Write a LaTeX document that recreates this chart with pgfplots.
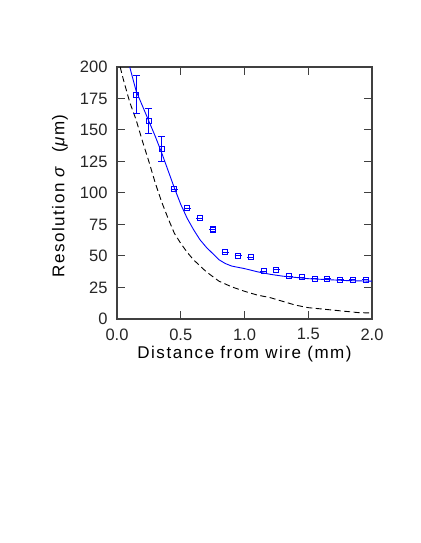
\documentclass[border=0pt]{standalone}
\usepackage{fontspec}
\setmainfont{Liberation Sans}
\usepackage{pgfplots}
\pgfplotsset{compat=1.18}

% measured points
\pgfplotstableread{
x     y    err
0.15  178  15
0.25  157  10
0.35  135  10
0.45  103  0
0.55  88   0
0.65  80   0
0.75  71   0
0.85  53   0
0.95  50   0
1.05  49   0
1.15  38   0
1.25  39   0
1.35  34   0
1.45  33   0
1.55  32   0
1.65  32   0
1.75  31   0
1.85  31   0
1.95  31   0
}\meas

\newcommand{\lblfont}{\fontsize{17}{19}\selectfont\addfontfeature{LetterSpace=9}}

\begin{document}
\begin{tikzpicture}
\path (-117pt,-224pt) rectangle (303pt,319pt);
\begin{axis}[
    at={(0,0)}, anchor=south west,
    scale only axis,
    width=255pt, height=252pt,
    xmin=0, xmax=2, ymin=0, ymax=200,
    xtick={0,0.5,1,1.5,2},
    ytick={0,25,...,200},
    xticklabels={0.0,0.5,1.0,1.5,2.0},
    tick align=inside,
    major tick length=8pt,
    minor tick num=0,
    axis line style={black!75, line width=1.1pt},
    every tick/.style={black!75, line width=1pt},
    /pgf/number format/assume math mode=true,
    tick label style={font=\fontsize{16.5}{18}\selectfont, black!85},
    yticklabel style={xshift=-6pt},
    xticklabel style={yshift=-6pt},
    xlabel={Distance from wire (mm)},
    ylabel={Resolution \textit{σ}\hspace{6pt} (\textit{μ}m)},
    xlabel style={font=\lblfont, at={(axis description cs:0.5,-0.155)}, anchor=base},
    ylabel style={font=\lblfont, at={(axis description cs:-0.224,0.488)}, anchor=center, rotate=0},
    clip=true,
]
% fit curve
\addplot[blue, line width=0.9pt] coordinates {
(0.10,200) (0.15,181) (0.2,169) (0.25,157) (0.3,145) (0.35,132) (0.4,118)
(0.45,104) (0.5,91) (0.55,80) (0.6,71) (0.65,63) (0.7,57) (0.75,52)
(0.8,47) (0.85,44) (0.9,42) (1.0,40) (1.1,37.5) (1.2,35.5) (1.3,34)
(1.4,33) (1.5,32) (1.6,31.5) (1.7,31) (1.8,30.5) (2.0,30)
};
% intrinsic resolution
\addplot[black, line width=0.9pt, dash pattern=on 6pt off 3.5pt] coordinates {
(0.025,200) (0.05,190) (0.1,172) (0.15,158) (0.2,141) (0.25,125) (0.3,108)
(0.35,93) (0.4,80) (0.45,68) (0.5,60) (0.55,53) (0.6,47) (0.7,37.5)
(0.8,30) (0.9,25.5) (1.0,22) (1.1,19) (1.2,17) (1.3,14) (1.4,11)
(1.5,9) (1.6,8) (1.7,7) (1.8,6) (1.9,5) (2.0,4.8)
};
% data
\addplot[blue, only marks, mark=square, mark size=2.5pt, mark options={line width=1.1pt},
    error bars/.cd, y dir=both, y explicit,
    error bar style={line width=1pt}, error mark options={rotate=90, mark size=3.5pt, line width=1pt}]
    table[x=x, y=y, y error=err] {\meas};
\end{axis}
\end{tikzpicture}
\end{document}
